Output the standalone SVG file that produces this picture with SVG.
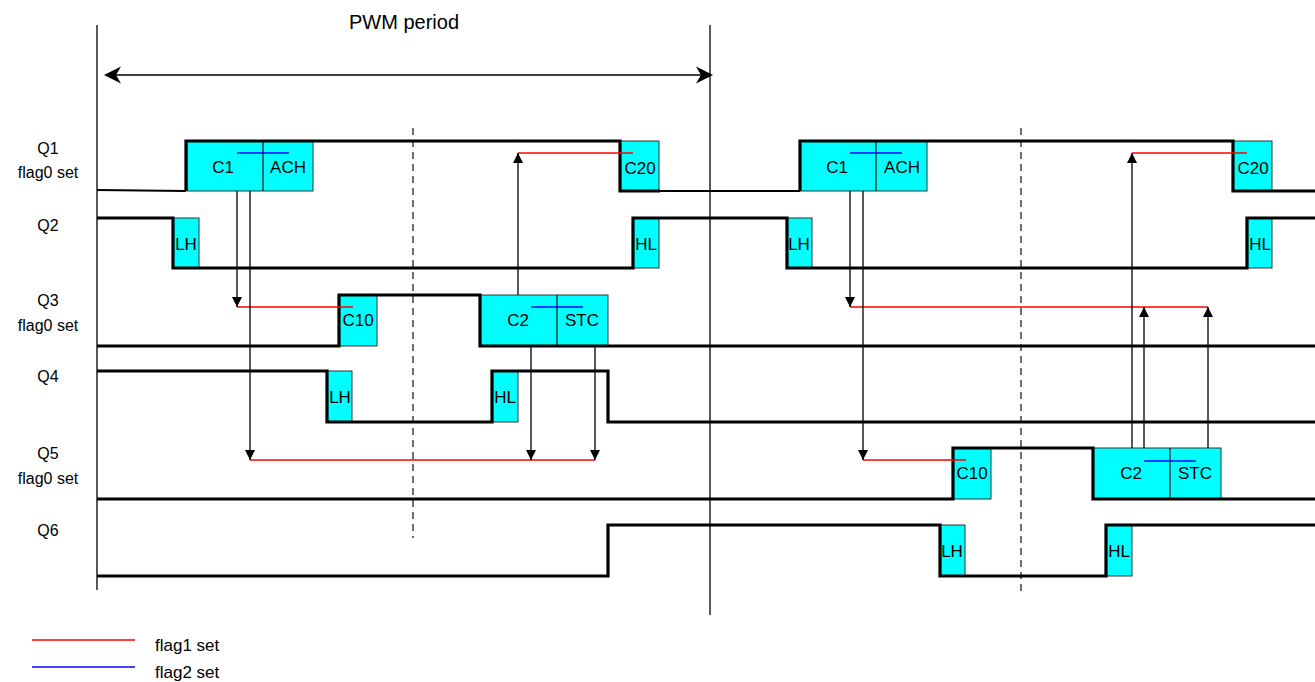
<svg xmlns="http://www.w3.org/2000/svg" width="1315" height="682" viewBox="0 0 1315 682">
<defs>
<style>
text{font-family:"Liberation Sans",Arial,sans-serif;fill:#000}
.lbl{font-size:16px;text-anchor:middle}
.bt{font-size:17px;text-anchor:middle;dominant-baseline:central}
.box{fill:#00FFFF;stroke:#333;stroke-width:1}
.sig{fill:none;stroke:#000;stroke-width:3.2;stroke-linejoin:miter}
.sigt{fill:none;stroke:#000;stroke-width:2}
.vl{stroke:#000;stroke-width:1.3;fill:none}
.dash{stroke:#222;stroke-width:1.3;stroke-dasharray:7,5;fill:none}
.con{stroke:#111;stroke-width:1.4;fill:none;marker-end:url(#ah)}
.red{stroke:#FF0000;stroke-width:1.4;fill:none}
.blue{stroke:#0000FF;stroke-width:1.4;fill:none}
</style>
<marker id="ah" viewBox="0 0 10 10" refX="10" refY="5" markerWidth="10" markerHeight="10" markerUnits="userSpaceOnUse" orient="auto">
<path d="M0,0 L10,5 L0,10 Z" fill="#000"/>
</marker>
</defs>
<rect width="1315" height="682" fill="#fff"/>

<g id="frame">
<line class="vl" x1="97" y1="25" x2="97" y2="590"/>
<line class="vl" x1="710" y1="25" x2="710" y2="615"/>
<line class="dash" x1="413" y1="128" x2="413" y2="538"/>
<line class="dash" x1="1021" y1="128" x2="1021" y2="595"/>
<line class="vl" x1="110" y1="75" x2="707" y2="75"/>
<path d="M104,75 L121,66.5 L116,75 L121,83.5 Z" fill="#000"/>
<path d="M713,75 L696,66.5 L701,75 L696,83.5 Z" fill="#000"/>
<text x="404" y="29" style="font-size:20px;text-anchor:middle">PWM period</text>
</g>

<g id="labels">
<text class="lbl" x="48" y="154">Q1</text>
<text class="lbl" x="48" y="178">flag0 set</text>
<text class="lbl" x="48" y="231">Q2</text>
<text class="lbl" x="48" y="306">Q3</text>
<text class="lbl" x="48" y="331">flag0 set</text>
<text class="lbl" x="48" y="382">Q4</text>
<text class="lbl" x="48" y="459">Q5</text>
<text class="lbl" x="48" y="484">flag0 set</text>
<text class="lbl" x="48" y="536">Q6</text>
</g>

<g id="q1-c1-ach"><rect class="box" x="187" y="141" width="126" height="50"/><line x1="263" y1="141" x2="263" y2="191" stroke="#222" stroke-width="1.3"/><text class="bt" x="223" y="167">C1</text><text class="bt" x="288" y="167">ACH</text></g>
<g id="q1-c20"><rect class="box" x="620" y="141" width="39" height="50"/><text class="bt" x="640" y="168">C20</text></g>
<g id="q1-c1-ach-2"><rect class="box" x="800" y="141" width="127" height="50"/><line x1="876" y1="141" x2="876" y2="191" stroke="#222" stroke-width="1.3"/><text class="bt" x="837" y="167">C1</text><text class="bt" x="902" y="167">ACH</text></g>
<g id="q1-c20-2"><rect class="box" x="1233" y="141" width="39" height="50"/><text class="bt" x="1253" y="168">C20</text></g>

<g id="q2-lh"><rect class="box" x="173" y="218" width="26" height="50"/><text class="bt" x="186" y="244">LH</text></g>
<g id="q2-hl"><rect class="box" x="633" y="218" width="26" height="50"/><text class="bt" x="646" y="244">HL</text></g>
<g id="q2-lh-2"><rect class="box" x="787" y="218" width="25" height="50"/><text class="bt" x="799" y="244">LH</text></g>
<g id="q2-hl-2"><rect class="box" x="1247" y="218" width="25" height="50"/><text class="bt" x="1260" y="244">HL</text></g>

<g id="q3-c10"><rect class="box" x="339" y="295" width="38" height="51"/><text class="bt" x="358" y="320">C10</text></g>
<g id="q3-c2-stc"><rect class="box" x="480" y="295" width="128" height="51"/><line x1="557" y1="295" x2="557" y2="346" stroke="#222" stroke-width="1.3"/><text class="bt" x="518" y="320">C2</text><text class="bt" x="582" y="320">STC</text></g>

<g id="q4-lh"><rect class="box" x="327" y="371" width="25" height="51"/><text class="bt" x="340" y="397">LH</text></g>
<g id="q4-hl"><rect class="box" x="492" y="371" width="26" height="51"/><text class="bt" x="505" y="397">HL</text></g>

<g id="q5-c10"><rect class="box" x="953" y="448" width="38" height="51"/><text class="bt" x="972" y="473">C10</text></g>
<g id="q5-c2-stc"><rect class="box" x="1093" y="448" width="128" height="51"/><line x1="1170" y1="448" x2="1170" y2="499" stroke="#222" stroke-width="1.3"/><text class="bt" x="1131" y="473">C2</text><text class="bt" x="1195" y="473">STC</text></g>

<g id="q6-lh"><rect class="box" x="940" y="525" width="25" height="51"/><text class="bt" x="952" y="551">LH</text></g>
<g id="q6-hl"><rect class="box" x="1106" y="525" width="26" height="51"/><text class="bt" x="1119" y="551">HL</text></g>

<g id="signals">
<path class="sigt" d="M97,190 L186,191"/>
<path class="sig" d="M186,191 L186,141 L620,141 L620,191 L660,191"/>
<path class="sigt" d="M660,191 L800,191"/>
<path class="sig" d="M800,191 L800,141 L1233,141 L1233,191 L1315,191"/>
<path class="sig" d="M97,218 L173,218 L173,268 L633,268 L633,218 L787,218 L787,268 L1247,268 L1247,218 L1315,218"/>
<path class="sig" d="M97,346 L339,346 L339,295 L480,295 L480,346 L1315,346"/>
<path class="sig" d="M97,371 L327,371 L327,422 L492,422 L492,371 L608,371 L608,422 L1315,422"/>
<path class="sig" d="M97,499 L953,499 L953,448 L1093,448 L1093,499 L1315,499"/>
<path class="sig" d="M97,576 L608,576 L608,525 L940,525 L940,576 L1106,576 L1106,525 L1315,525"/>
</g>

<g id="flags">
<line class="blue" x1="237" y1="153" x2="289" y2="153"/>
<line class="blue" x1="850" y1="153" x2="902" y2="153"/>
<line class="blue" x1="531" y1="307" x2="583" y2="307"/>
<line class="blue" x1="1144" y1="461" x2="1196" y2="461"/>
<line class="red" x1="237" y1="307" x2="353" y2="307"/>
<line class="red" x1="250" y1="460" x2="595" y2="460"/>
<line class="red" x1="518" y1="153" x2="633" y2="153"/>
<line class="red" x1="850" y1="307" x2="1208" y2="307"/>
<line class="red" x1="863" y1="460" x2="966" y2="460"/>
<line class="red" x1="1132" y1="153" x2="1247" y2="153"/>
</g>

<g id="connectors">
<line class="con" x1="237" y1="191" x2="237" y2="307"/>
<line class="con" x1="250" y1="191" x2="250" y2="460"/>
<line class="con" x1="518" y1="295" x2="518" y2="153"/>
<line class="con" x1="531" y1="346" x2="531" y2="460"/>
<line class="con" x1="595" y1="346" x2="595" y2="460"/>
<line class="con" x1="850" y1="191" x2="850" y2="307"/>
<line class="con" x1="863" y1="191" x2="863" y2="460"/>
<line class="con" x1="1132" y1="448" x2="1132" y2="153"/>
<line class="con" x1="1144" y1="448" x2="1144" y2="307"/>
<line class="con" x1="1208" y1="448" x2="1208" y2="307"/>
</g>

<g id="legend">
<line class="red" x1="32" y1="640" x2="135" y2="640"/>
<text x="155" y="651" style="font-size:17px">flag1 set</text>
<line class="blue" x1="32" y1="667" x2="135" y2="667"/>
<text x="155" y="678" style="font-size:17px">flag2 set</text>
</g>
</svg>
